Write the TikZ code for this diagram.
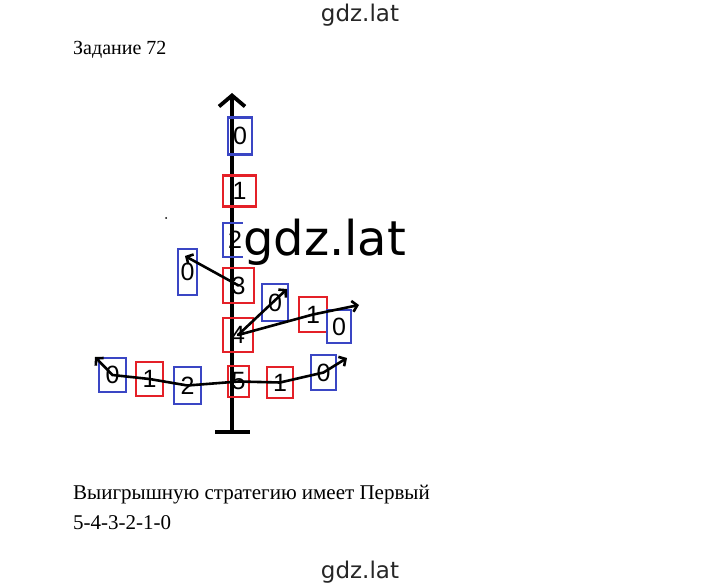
\documentclass[tikz,border=0pt]{standalone}
\usepackage{fontspec}
\setmainfont{Liberation Serif}
\setsansfont{Liberation Sans}
\newfontfamily\markfont{DejaVu Sans}
\usetikzlibrary{arrows.meta,positioning}
\definecolor{boxred}{RGB}{228,32,40}
\definecolor{boxblue}{RGB}{58,70,196}

\begin{document}
\begin{tikzpicture}[x=1pt, y=-1pt, >={Straight Barb[length=5pt,width=11pt]}]

		\tikzstyle{redbox}=[draw=boxred, line width=2.8pt, inner sep=0pt,
		font=\sffamily\fontsize{25}{25}\selectfont]
		\tikzstyle{bluebox}=[draw=boxblue, line width=2.8pt, inner sep=0pt,
		font=\sffamily\fontsize{25}{25}\selectfont]
		\tikzstyle{move}=[line width=2.6pt, line cap=round]
		\tikzstyle{plain}=[font=\fontsize{21}{21}\selectfont, inner sep=0pt]

		\useasboundingbox (0,0) rectangle (720,588);

		% headers
		\node[font=\markfont\fontsize{23}{23}\selectfont, text=black!85] (top) at (360,15) {gdz.lat};
		\node[plain, font=\fontsize{20}{20}\selectfont, anchor=base west] (task) at (73,55) {Задание 72};

		% axis
		\coordinate (axBot) at (232,432);
		\coordinate (axTop) at (232,93);
		\coordinate (tickL) at (215,432);
		\coordinate (tickR) at (250,432);
		\draw[line width=3.8pt, -{Straight Barb[length=11pt,width=26pt]}] (axBot) -- (axTop);
		\draw[line width=3.8pt] (tickL) -- (tickR);
		\fill (166,218) circle (1pt);

		% arrow ends
		\coordinate (aTip) at (185,256);
		\coordinate (bTip) at (287,289);
		\coordinate (cTip) at (359,305);
		\coordinate (dTip) at (347,358);
		\coordinate (eTip) at (95,357);

		% positions on the main line
		\node[bluebox, minimum width=24pt, minimum height=37pt] (t0) at (240,136) {0};
		\node[redbox, minimum width=33pt, minimum height=31pt] (t1) at (239.5,191) {1};
		\node[bluebox, minimum width=24pt, minimum height=34pt] (t2) at (235,240) {2};
		\node[redbox, minimum width=31pt, minimum height=35pt] (n3) at (238.5,285.5) {3};
		\node[redbox, minimum width=30pt, minimum height=34pt] (n4) at (238,335) {4};
		\node[redbox, minimum width=21pt, minimum height=31pt] (n5) at (238.5,381.5) {5};

		% branches
		\node[bluebox, minimum width=19pt, minimum height=46pt] (a0) at (187.5,272) {0};
		\node[bluebox, minimum width=26pt, minimum height=37pt] (b0) at (275,302.5) {0};
		\node[redbox, minimum width=28pt, minimum height=35pt] (c1) at (313,314.5) {1};
		\node[bluebox, minimum width=24pt, minimum height=33pt] (c0) at (339,326.5) {0};
		\node[redbox, minimum width=26pt, minimum height=31pt] (d1) at (280,382.5) {1};
		\node[bluebox, minimum width=25pt, minimum height=35pt] (d0) at (323.5,372.5) {0};
		\node[bluebox, minimum width=27pt, minimum height=37pt] (e2) at (187.5,385.5) {2};
		\node[redbox, minimum width=27pt, minimum height=34pt] (e1) at (149.5,379) {1};
		\node[bluebox, minimum width=27pt, minimum height=34pt] (e0) at (112.5,375) {0};

		% moves
		\draw[move, ->] (n3.center) -- (aTip);
		\draw[move, ->] (n4.center) -- (bTip);
		\draw[move, ->] (n4.center) -- (c1.center) -- (cTip);
		\draw[move, ->] (n5.center) -- (d1.center) -- (d0.center) -- (dTip);
		\draw[move, ->] (n5.center) -- (e2.center) -- (e1.center) -- (e0.center) -- (eTip);

		% watermark
		\node[anchor=west, fill=white, inner sep=0pt,
		font=\markfont\fontsize{48}{48}\selectfont] (mark) at (243,242) {gdz.lat};

		% answer
		\node[plain, anchor=base west] (answer) at (73,499) {Выигрышную стратегию имеет Первый};
		\node[plain, anchor=base west] (chain) at (73,529) {5-4-3-2-1-0};
		\node[font=\markfont\fontsize{23}{23}\selectfont, text=black!85] (bottom) at (360,572) {gdz.lat};

\end{tikzpicture}
\end{document}
